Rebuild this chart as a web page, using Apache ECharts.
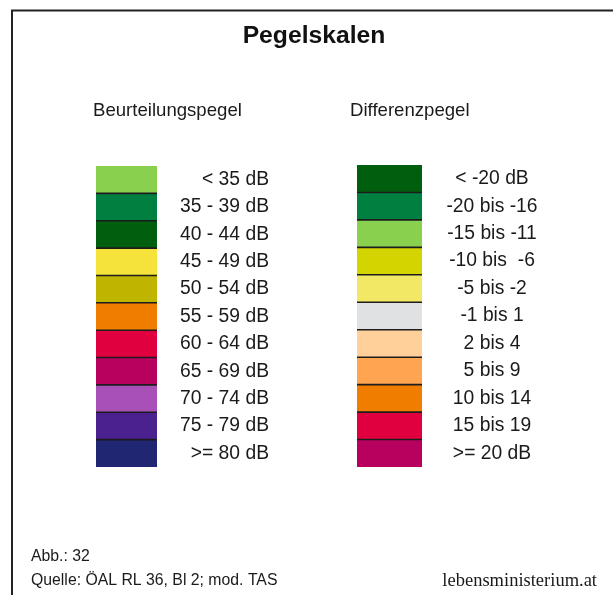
<!DOCTYPE html>
<html>
<head>
<meta charset="utf-8">
<script src="https://cdn.jsdelivr.net/npm/echarts@6/dist/echarts.min.js"></script>
<style>
html,body{margin:0;padding:0;background:#fff;}
#chart{width:613px;height:595px;}
</style>
</head>
<body>
<div id="chart"></div>
<script>
// Data
const leftCategories = ['< 35 dB','35 - 39 dB','40 - 44 dB','45 - 49 dB','50 - 54 dB','55 - 59 dB','60 - 64 dB','65 - 69 dB','70 - 74 dB','75 - 79 dB','>= 80 dB'];
const leftColors = ['#88D04E','#008040','#005F0F','#F5E23B','#BFB400','#F07D00','#E0003F','#B8005E','#A84FB8','#4B2190','#202672'];
const rightCategories = ['< -20 dB','-20 bis -16','-15 bis -11','-10 bis  -6','-5 bis -2','-1 bis 1','2 bis 4','5 bis 9','10 bis 14','15 bis 19','>= 20 dB'];
const rightColors = ['#005F0F','#008040','#88D04E','#D4D400','#F2E865','#E0E1E2','#FFD09A','#FFA552','#F07D00','#E0003F','#B8005E'];

const FONT = '"Liberation Sans", Arial, sans-serif';
const chart = echarts.init(document.getElementById('chart'), null, {renderer:'canvas'});

function makeRender(colors){
  return function(params, api){
    const idx = api.value(1);
    const c = api.coord([0, idx]);
    const size = api.size([1, 1]);
    const w = size[0], h = size[1];
    const top = c[1] - h / 2;
    const children = [{
      type:'rect', shape:{x:c[0], y:top, width:w, height:h},
      style:{fill: colors[params.dataIndex]}
    }];
    if (params.dataIndex > 0) {
      children.push({type:'line', shape:{x1:c[0], y1:top, x2:c[0]+w, y2:top},
        style:{stroke:'#1c1c1c', lineWidth:1.6}});
    }
    return {type:'group', children};
  };
}

const option = {
  backgroundColor:'#fff',
  animation:false,
  title:[
    {text:'Pegelskalen', left:314, top:24, textAlign:'center', padding:0,
     textStyle:{fontFamily:FONT, fontSize:24.7, fontWeight:'bold', color:'#111'}},
    {text:'Beurteilungspegel', left:93, top:101, padding:0,
     textStyle:{fontFamily:FONT, fontSize:18.6, fontWeight:'normal', color:'#1a1a1a'}},
    {text:'Differenzpegel', left:350, top:101, padding:0,
     textStyle:{fontFamily:FONT, fontSize:18.6, fontWeight:'normal', color:'#1a1a1a'}},
    {text:'Abb.: 32', left:31, top:549, padding:0,
     textStyle:{fontFamily:FONT, fontSize:15.8, fontWeight:'normal', color:'#1a1a1a'}},
    {text:'Quelle: ÖAL RL 36, Bl 2; mod. TAS', left:31, top:573, padding:0,
     textStyle:{fontFamily:FONT, fontSize:15.8, fontWeight:'normal', color:'#1a1a1a'}},
    {text:'lebensministerium.at', right:16, top:572, padding:0,
     textStyle:{fontFamily:'"Liberation Serif", "Times New Roman", serif', fontSize:18.5, fontWeight:'normal', color:'#1a1a1a'}}
  ],
  graphic:[
    {type:'polyline', shape:{points:[[12,595],[12,10.5],[613,10.5]]},
     style:{stroke:'#222', lineWidth:2, fill:null}, silent:true}
  ],
  grid:[
    {left:96, top:166, width:61, height:301},
    {left:357, top:165, width:65, height:302}
  ],
  xAxis:[
    {gridIndex:0, type:'value', min:0, max:1, show:false},
    {gridIndex:1, type:'value', min:0, max:1, show:false}
  ],
  yAxis:[
    {gridIndex:0, type:'category', data:leftCategories, inverse:true, position:'right',
     axisLine:{show:false}, axisTick:{show:false}, splitLine:{show:false},
     axisLabel:{interval:0, align:'right', margin:112, fontFamily:FONT, fontSize:19.3, color:'#1a1a1a'}},
    {gridIndex:1, type:'category', data:rightCategories, inverse:true, position:'right',
     axisLine:{show:false}, axisTick:{show:false}, splitLine:{show:false},
     axisLabel:{interval:0, align:'center', margin:70, fontFamily:FONT, fontSize:19.3, color:'#1a1a1a'}}
  ],
  series:[
    {type:'custom', xAxisIndex:0, yAxisIndex:0, renderItem:makeRender(leftColors),
     data:leftCategories.map((c,i)=>[0,i]), silent:true},
    {type:'custom', xAxisIndex:1, yAxisIndex:1, renderItem:makeRender(rightColors),
     data:rightCategories.map((c,i)=>[0,i]), silent:true}
  ]
};
chart.setOption(option);
</script>
</body>
</html>
